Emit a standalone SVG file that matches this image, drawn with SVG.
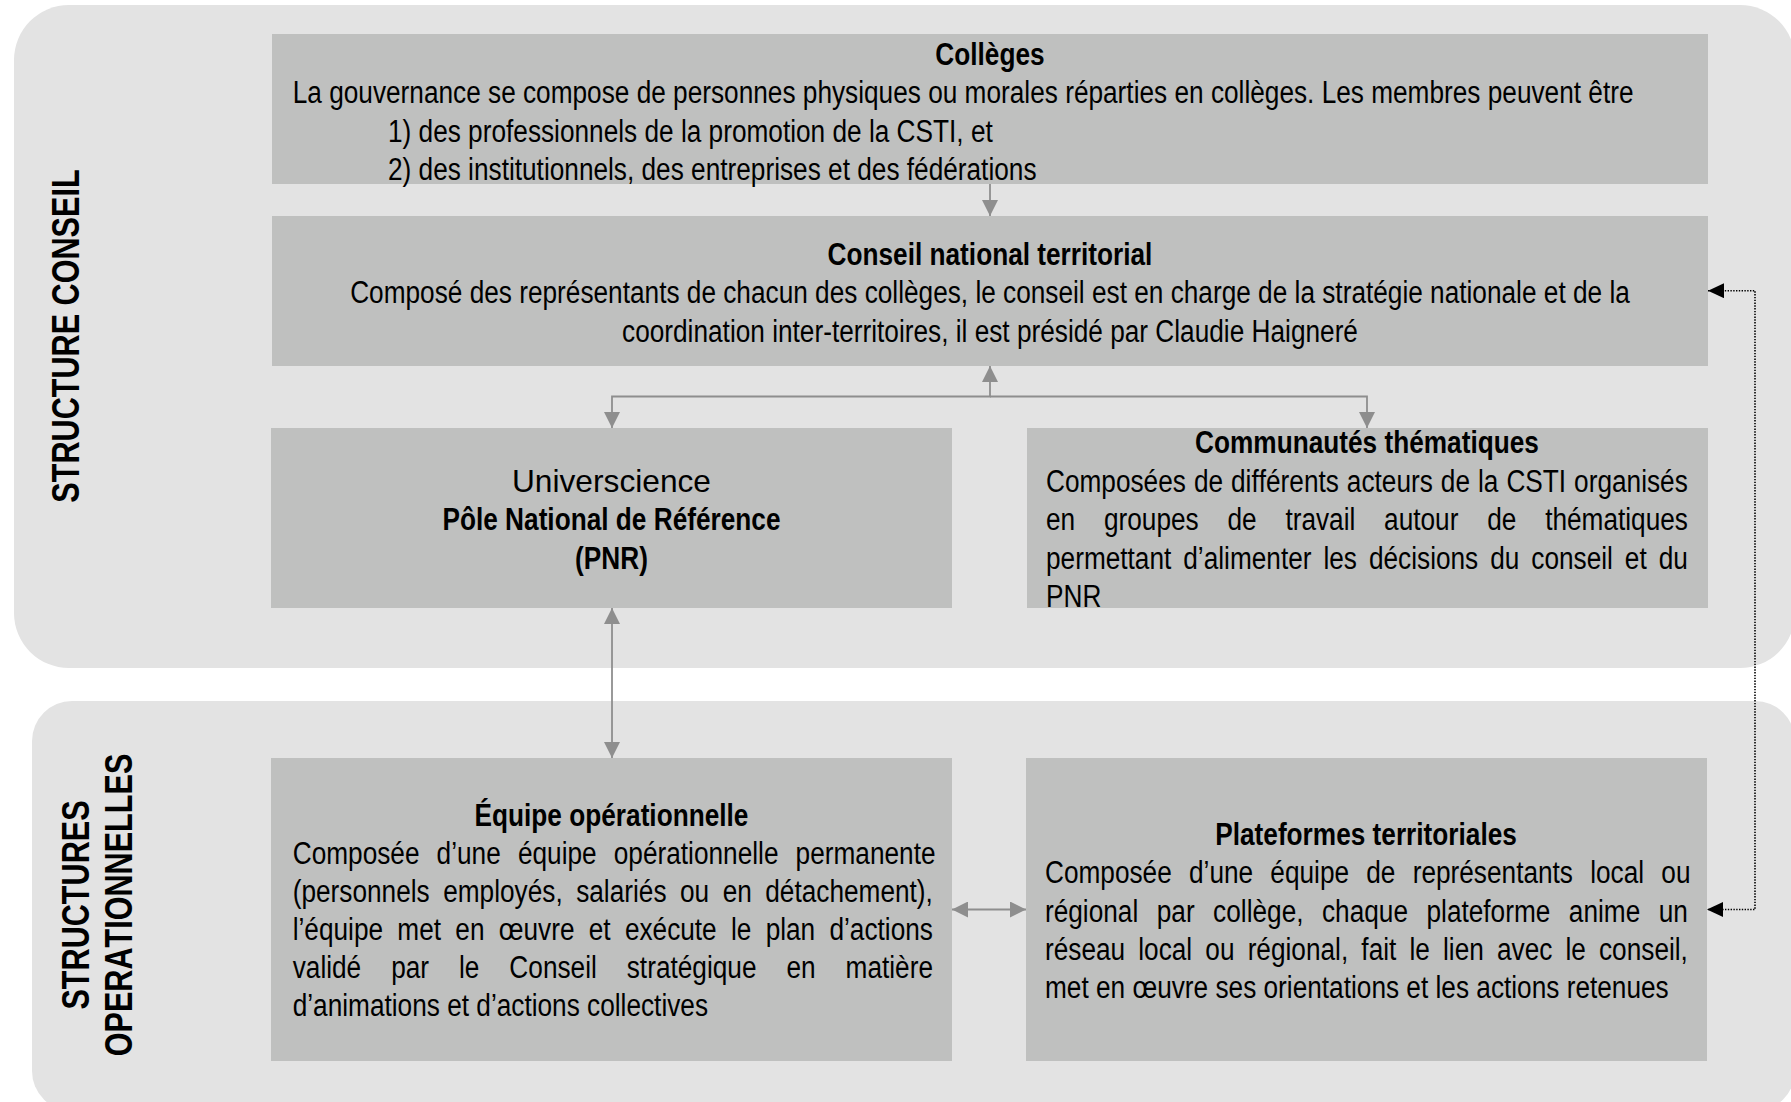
<svg xmlns="http://www.w3.org/2000/svg" width="1791" height="1102" viewBox="0 0 1791 1102">
<style>
.panel{fill:#e3e3e3}
.box{fill:#bfc0bf}
.t{font-family:'Liberation Sans',Arial,sans-serif;font-size:31px;fill:#000;font-kerning:none}
.b{font-weight:bold}
.c{text-anchor:middle}
.side{font-family:'Liberation Sans',Arial,sans-serif;font-size:39px;font-weight:bold;fill:#000;text-anchor:middle;font-kerning:none}
.conn{fill:none;stroke:#8e8e8e;stroke-width:1.8}
.dot{fill:none;stroke:#000;stroke-width:1.6;stroke-dasharray:1.4 1.4}
</style>
<defs>
<marker id="ag" viewBox="0 0 16 16" refX="16" refY="8" markerWidth="16" markerHeight="16" markerUnits="userSpaceOnUse" orient="auto-start-reverse">
<path d="M0,0 L16,8 L0,16 z" fill="#8e8e8e"/>
</marker>
<marker id="ab" viewBox="0 0 16 15" refX="16" refY="7.5" markerWidth="16" markerHeight="15" markerUnits="userSpaceOnUse" orient="auto-start-reverse">
<path d="M0,0 L16,7.5 L0,15 z" fill="#000"/>
</marker>
</defs>

<g id="panel-conseil">
<rect class="panel" x="14" y="5" width="1781" height="663" rx="55" ry="55"/>
<text class="side" transform="translate(78.5,336) rotate(-90) scale(0.785,1)">STRUCTURE CONSEIL</text>
</g>
<g id="panel-operationnelles">
<rect class="panel" x="32" y="701" width="1763" height="410" rx="40" ry="40"/>
<text class="side" transform="translate(88.5,905) rotate(-90) scale(0.785,1)">STRUCTURES</text>
<text class="side" transform="translate(132,905) rotate(-90) scale(0.785,1)">OPERATIONNELLES</text>
</g>

<g id="colleges">
<rect class="box" x="272" y="34" width="1436" height="150"/>
<g transform="scale(0.846,1)">
<text class="t b c" x="1170.2" y="65">Collèges</text>
<text class="t" x="346" y="103.5">La gouvernance se compose de personnes physiques ou morales réparties en collèges. Les membres peuvent être</text>
<text class="t" x="458.6" y="142">1) des professionnels de la promotion de la CSTI, et</text>
<text class="t" x="458.6" y="180.5">2) des institutionnels, des entreprises et des fédérations</text>
</g>
</g>

<g id="conseil-national">
<rect class="box" x="272" y="216" width="1436" height="150"/>
<g transform="scale(0.846,1)">
<text class="t b c" x="1170.2" y="265">Conseil national territorial</text>
<text class="t c" x="1170.2" y="303.5">Composé des représentants de chacun des collèges, le conseil est en charge de la stratégie nationale et de la</text>
<text class="t c" x="1170.2" y="342">coordination inter-territoires, il est présidé par Claudie Haigneré</text>
</g>
</g>

<g id="universcience">
<rect class="box" x="271" y="428" width="681" height="180"/>
<text class="t c" x="611.5" y="492" style="font-size:31.7px">Universcience</text>
<g transform="scale(0.846,1)">
<text class="t b c" x="722.8" y="530.5">Pôle National de Référence</text>
<text class="t b c" x="722.8" y="569">(PNR)</text>
</g>
</g>

<g id="communautes">
<rect class="box" x="1027" y="428" width="681" height="180"/>
<g transform="scale(0.846,1)">
<text class="t b c" x="1615.8" y="453.5">Communautés thématiques</text>
<text class="t" x="1236.4" y="492" style="word-spacing:0.84px">Composées de différents acteurs de la CSTI organisés</text>
<text class="t" x="1236.4" y="530.5" style="word-spacing:25.4px">en groupes de travail autour de thématiques</text>
<text class="t" x="1236.4" y="568.8" style="word-spacing:5.52px">permettant d’alimenter les décisions du conseil et du</text>
<text class="t" x="1236.4" y="607">PNR</text>
</g>
</g>

<g id="equipe">
<rect class="box" x="271" y="758" width="681" height="303"/>
<g transform="scale(0.846,1)">
<text class="t b c" x="722.8" y="826">Équipe opérationnelle</text>
<text class="t" x="346" y="864.2" style="word-spacing:11.64px">Composée d’une équipe opérationnelle permanente</text>
<text class="t" x="346" y="902.3" style="word-spacing:7.33px">(personnels employés, salariés ou en détachement),</text>
<text class="t" x="346" y="940.4" style="word-spacing:8.25px">l’équipe met en œuvre et exécute le plan d’actions</text>
<text class="t" x="346" y="978.5" style="word-spacing:26.8px">validé par le Conseil stratégique en matière</text>
<text class="t" x="346" y="1016.5">d’animations et d’actions collectives</text>
</g>
</g>

<g id="plateformes">
<rect class="box" x="1026" y="758" width="681" height="303"/>
<g transform="scale(0.846,1)">
<text class="t b c" x="1614.7" y="845">Plateformes territoriales</text>
<text class="t" x="1235.2" y="883.5" style="word-spacing:11.74px">Composée d’une équipe de représentants local ou</text>
<text class="t" x="1235.2" y="921.7" style="word-spacing:13.24px">régional par collège, chaque plateforme anime un</text>
<text class="t" x="1235.2" y="959.9" style="word-spacing:6.92px">réseau local ou régional, fait le lien avec le conseil,</text>
<text class="t" x="1235.2" y="998.1">met en œuvre ses orientations et les actions retenues</text>
</g>
</g>

<g id="connectors">
<path class="conn" d="M990,184 L990,216" marker-end="url(#ag)"/>
<path class="conn" d="M990,366 V396.5 H612 V428" marker-start="url(#ag)" marker-end="url(#ag)"/>
<path class="conn" d="M990,396.5 H1367 V428" marker-end="url(#ag)"/>
<path class="conn" d="M612,608 V758" marker-start="url(#ag)" marker-end="url(#ag)"/>
<path class="conn" d="M952,909.5 H1026" marker-start="url(#ag)" marker-end="url(#ag)"/>
<path class="dot" d="M1708,290.7 H1755 V909.5 H1707" marker-start="url(#ab)" marker-end="url(#ab)"/>
</g>
</svg>
